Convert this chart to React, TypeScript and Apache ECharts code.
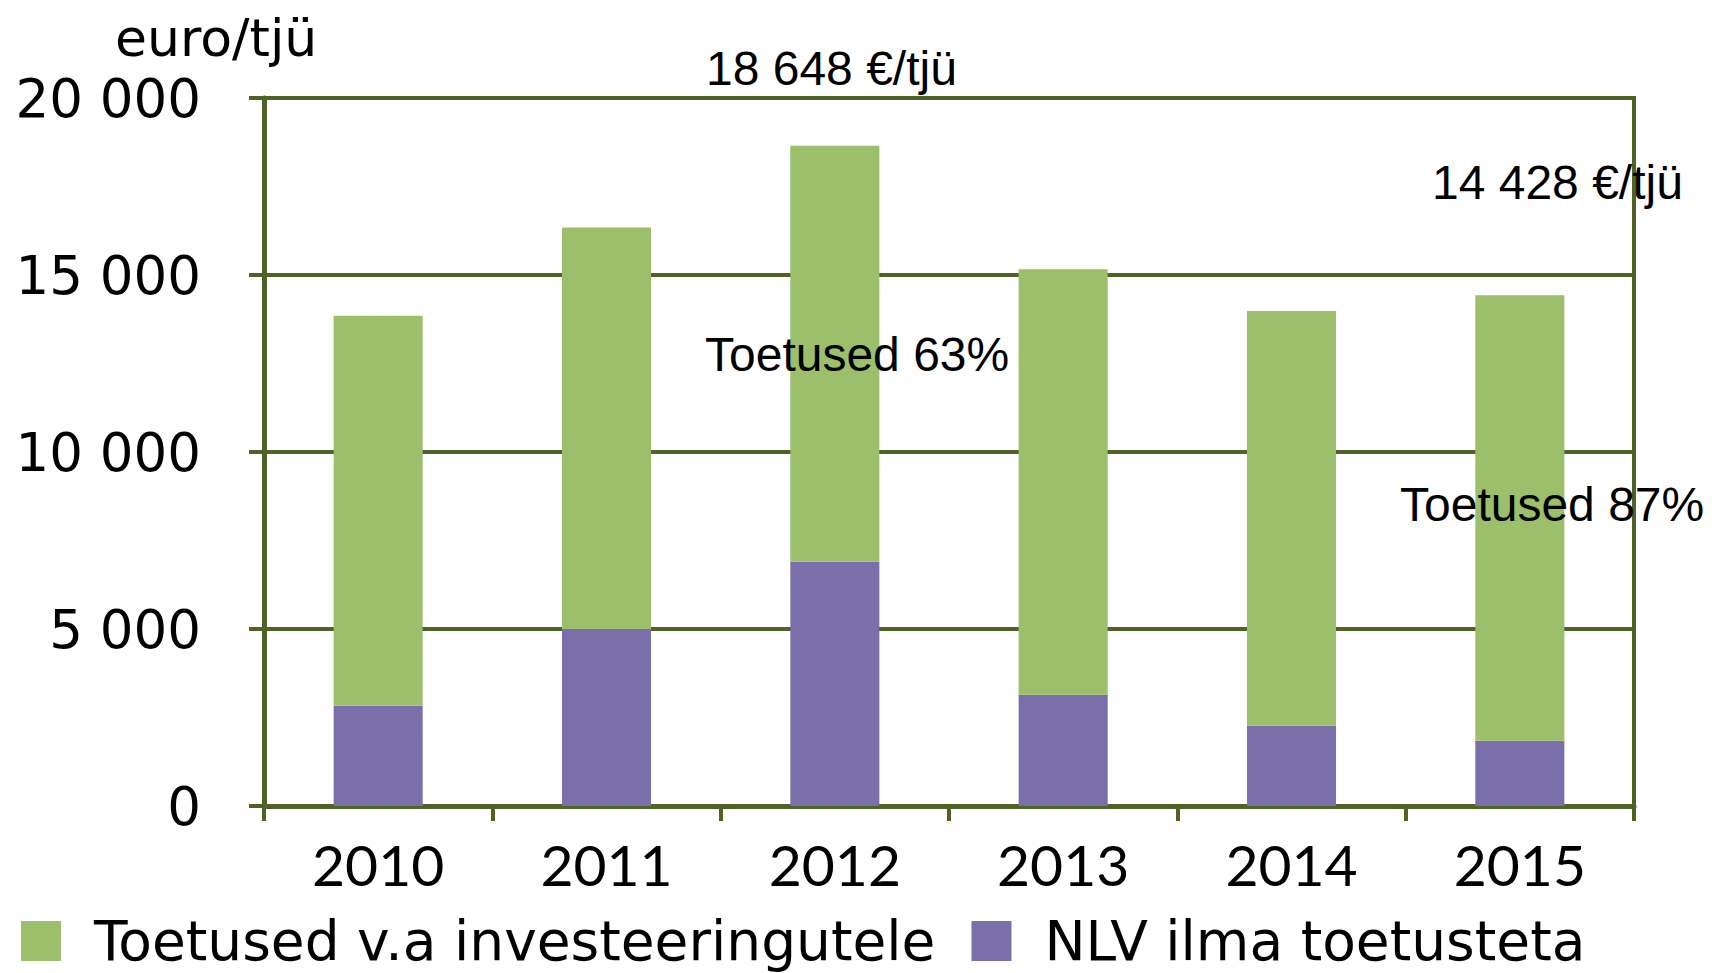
import React, { useEffect, useRef } from "react";
import * as echarts from "echarts";

const years = ["2010", "2011", "2012", "2013", "2014", "2015"];
const nlvValues = [2830, 5000, 6900, 3140, 2270, 1840];
const toetusedValues = [11020, 11340, 11748, 12020, 11710, 12588];
const seriesNames = ["Toetused v.a investeeringutele", "NLV ilma toetusteta"];
const unitLabel = "euro/tjü";
const annotations = ["18 648 €/tjü", "Toetused 63%", "14 428 €/tjü", "Toetused 87%"];

const AXIS = "#4F6228";
const GREEN = "#9BBF6A";
const PURPLE = "#7A6FAA";
const FONT = "Lato, 'Noto Sans', sans-serif";
const Y_FONT = "'DejaVu Sans', sans-serif";
const ANNO_FONT = "'Liberation Sans', Arial, sans-serif";

export default function App() {
  const ref = useRef<HTMLDivElement>(null);
  useEffect(() => {
    if (!ref.current) return;
    const chart = echarts.init(ref.current, undefined, { renderer: "svg" });
    const anno = (i: number, left: number, top: number) => ({
      type: "text",
      left,
      top,
      z: 100,
      style: { text: annotations[i], fontFamily: ANNO_FONT, fontSize: 48, fill: "#000" },
    });
    chart.setOption({
      animation: false,
      backgroundColor: "#ffffff",
      grid: {
        left: 264,
        right: 91,
        top: 98,
        bottom: 167,
        show: true,
        borderColor: AXIS,
        borderWidth: 4,
        backgroundColor: "transparent",
      },
      legend: {
        left: 21,
        top: 913,
        padding: 0,
        itemWidth: 40,
        itemHeight: 40,
        itemGap: 36,
        icon: "rect",
        data: seriesNames,
        textStyle: {
          fontFamily: Y_FONT,
          fontSize: 55,
          lineHeight: 56,
          color: "#000",
          padding: [0, 0, 0, 28],
        },
      },
      xAxis: {
        type: "category",
        data: years,
        axisLine: { lineStyle: { color: AXIS, width: 5 } },
        axisTick: { show: true, length: 15, lineStyle: { color: AXIS, width: 4 } },
        axisLabel: { fontFamily: FONT, fontSize: 57, color: "#000", margin: 29 },
      },
      yAxis: {
        type: "value",
        min: 0,
        max: 20000,
        interval: 5000,
        axisLine: { show: true, lineStyle: { color: AXIS, width: 5 } },
        axisTick: { show: true, length: 15, lineStyle: { color: AXIS, width: 4 } },
        splitLine: { show: true, lineStyle: { color: AXIS, width: 4 } },
        axisLabel: {
          fontFamily: Y_FONT,
          fontSize: 53,
          color: "#000",
          margin: 63,
          formatter: (v: number) =>
            v >= 1000 ? `${Math.floor(v / 1000)} ${String(v % 1000).padStart(3, "0")}` : `${v}`,
        },
      },
      series: [
        {
          name: seriesNames[1],
          type: "bar",
          stack: "total",
          data: nlvValues,
          barWidth: "39%",
          itemStyle: { color: PURPLE },
        },
        {
          name: seriesNames[0],
          type: "bar",
          stack: "total",
          data: toetusedValues,
          barWidth: "39%",
          itemStyle: { color: GREEN },
        },
      ],
      graphic: [
        {
          type: "text",
          left: 115,
          top: 12,
          z: 100,
          style: { text: unitLabel, fontFamily: Y_FONT, fontSize: 52, fill: "#000" },
        },
        anno(0, 706, 44),
        anno(1, 705, 330),
        anno(2, 1432, 158),
        anno(3, 1400, 480),
      ],
    });
    return () => chart.dispose();
  }, []);
  return (
    <div
      ref={ref}
      style={{ position: "fixed", left: 0, top: 0, width: 1725, height: 973, background: "#fff" }}
    />
  );
}
